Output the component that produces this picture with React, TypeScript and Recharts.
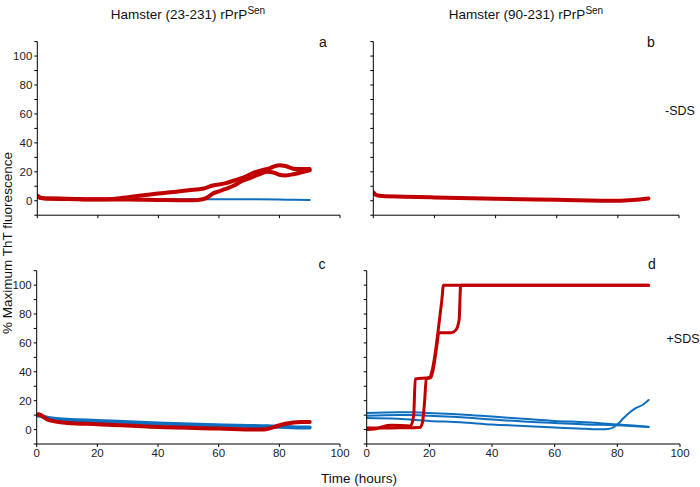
import React from 'react';
import { LineChart, Line, XAxis, YAxis } from 'recharts';

// ---- axis ticks ----
const xTicks = [0, 20, 40, 60, 80, 100];
const yTicks = [-10, 0, 10, 20, 30, 40, 50, 60, 70, 80, 90, 100, 110];

// ---- panel a: Hamster (23-231), -SDS ----
const aBlueT = [0, 1, 3, 10, 20, 30, 40, 50, 60, 70, 80, 85, 90];
const aBlueV = [2, 1.5, 1.2, 1, 1, 1, 1, 1, 1.1, 1, 0.8, 0.6, 0.5];
const aRed1T = [0, 1, 3, 10, 20, 25, 30, 35, 40, 45, 50, 55, 58, 62, 65, 68, 71, 74, 76, 78, 80, 82, 85, 88, 90];
const aRed1V = [3.5, 2.2, 1.6, 1.4, 1, 1.2, 2.5, 3.8, 5, 6, 7.2, 8.5, 10.5, 12, 14, 16, 19, 21, 22, 23.5, 24.6, 24, 22, 22, 22];
const aRed2T = [0, 1, 3, 10, 20, 30, 40, 50, 53, 56, 58, 60, 62, 65, 67, 70, 73, 76, 78, 80, 82, 85, 88, 90];
const aRed2V = [3, 2, 1.5, 1.2, 0.8, 0.8, 0.5, 0.3, 0.5, 2, 5, 6.5, 8, 10.5, 13, 15.5, 18, 20, 19.5, 18, 17.5, 18.5, 20, 21];

// ---- panel b: Hamster (90-231), -SDS ----
const bBlueT = [0, 1, 3, 10, 20, 40, 60, 80, 90];
const bBlueV = [5, 3.8, 3.1, 2.7, 2.2, 1.3, 0.6, 0, 1.4];
const bRedT = [0, 1, 3, 10, 20, 40, 60, 80, 85, 90];
const bRedV = [5.8, 3.9, 3.2, 2.8, 2.3, 1.4, 0.7, 0, 0.5, 1.6];

// ---- panel c: Hamster (23-231), +SDS ----
const cBlueT = [0, 1, 5, 10, 20, 40, 59, 76, 87, 90];
const cBlueV = [10, 9.5, 7.6, 6.8, 6, 4.2, 3, 2.3, 1.4, 1.4];
const cRedT = [0, 0.5, 4, 10, 20, 40, 60, 74, 76, 79, 82, 87, 90];
const cRedV = [10, 10.6, 6.5, 4.6, 3.7, 1.8, 0.7, 0, 0.4, 2.3, 4, 5.3, 5.3];

// ---- panel d: Hamster (90-231), +SDS ----
const dBlue1T = [0, 10, 15, 20, 30, 40, 50, 60, 70, 80, 90];
const dBlue1V = [11.5, 12, 12, 11.5, 10.5, 9, 7.5, 6, 5, 3.5, 2];
const dBlue2T = [0, 10, 15, 20, 30, 40, 50, 60, 70, 80, 90];
const dBlue2V = [9.5, 10, 10, 9.5, 8.5, 7, 5.5, 4.5, 3.5, 3, 1.8];
const dBlue3T = [0, 10, 20, 30, 40, 50, 60, 70, 76, 78, 80, 82, 84, 86, 88, 90];
const dBlue3V = [8, 7.5, 6, 5, 3.5, 2.5, 1.5, 0.5, 0.2, 0.8, 3.5, 8, 12, 15, 17, 20.5];
const dRed1T = [0, 3, 5, 8, 14, 15, 15.5, 20, 21, 22, 23, 24, 24.5, 90];
const dRed1V = [0, 0.5, 2, 3, 2.5, 10, 35, 36, 42, 55, 72, 90, 100, 100];
const dRed2T = [0, 5, 10, 17, 17.8, 18.5, 19, 20.5, 21.5, 22.5, 23, 27, 28.5, 29.5, 30, 90];
const dRed2V = [1, 1, 1.2, 1.5, 5, 20, 35, 36, 45, 60, 67, 67, 69, 76, 100, 100];

const BLUE = '#0f6fbf';
const RED = '#c00000';
const FONT = '"Liberation Sans", Arial, sans-serif';

const zip = (t: number[], v: number[]) => t.map((x, i) => ({ t: x, v: v[i] }));

type Series = { data: { t: number; v: number }[]; color: string; width: number };

function Panel(props: {
  left: number; top: number; width: number; height: number;
  yw: number; xh: number; mt: number; mr: number; mb: number;
  showX: boolean; showY: boolean; series: Series[];
}) {
  const { left, top, width, height, yw, xh, mt, mr, mb, showX, showY, series } = props;
  return (
    <div style={{ position: 'absolute', left, top, width, height }}>
      <LineChart width={width} height={height} margin={{ top: mt, right: mr, bottom: mb, left: 0 }}>
        <XAxis
          type="number" dataKey="t" domain={[0, 100]} ticks={xTicks} allowDataOverflow
          height={xh} tickSize={3} stroke="#000" axisLine={{ stroke: '#000' }} tickLine={{ stroke: '#000' }}
          tick={{ fill: '#222', fontSize: 11.5, fontFamily: FONT }}
          tickFormatter={(v: number) => (showX ? String(v) : '')}
        />
        <YAxis
          type="number" dataKey="v" domain={[-10, 110]} ticks={yTicks} allowDataOverflow interval={0}
          width={yw} tickSize={3} stroke="#000" axisLine={{ stroke: '#000' }} tickLine={{ stroke: '#000' }}
          tick={{ fill: '#222', fontSize: 11.5, fontFamily: FONT }}
          tickFormatter={(v: number) => (showY && v >= 0 && v <= 100 && v % 20 === 0 ? String(v) : '')}
        />
        {series.map((s, i) => (
          <Line
            key={i} data={s.data} dataKey="v" type="monotone" stroke={s.color} strokeWidth={s.width}
            dot={false} isAnimationActive={false} strokeLinejoin="round" strokeLinecap="round"
          />
        ))}
      </LineChart>
    </div>
  );
}

const txt = (x: number, y: number, content: React.ReactNode, size = 12, rotate = false) => (
  <div
    style={{
      position: 'absolute', left: x, top: y, fontSize: size, fontFamily: FONT, color: '#111',
      whiteSpace: 'nowrap', lineHeight: 1,
      transform: `translate(-50%, -50%)${rotate ? ' rotate(-90deg)' : ''}`,
    }}
  >
    {content}
  </div>
);

const sup = (s: string) => (
  <span style={{ fontSize: 10, position: 'relative', top: -5 }}>{s}</span>
);

export default function App() {
  return (
    <div style={{ position: 'fixed', left: 0, top: 0, width: 700, height: 487, background: '#fff', overflow: 'hidden' }}>
      <Panel left={0} top={0} width={350} height={240} yw={37.3} xh={24.8} mt={41.6} mr={10} mb={0}
        showX={false} showY={true}
        series={[
          { data: zip(aBlueT, aBlueV), color: BLUE, width: 2 },
          { data: zip(aRed1T, aRed1V), color: RED, width: 4 },
          { data: zip(aRed2T, aRed2V), color: RED, width: 4 },
        ]} />
      <Panel left={340} top={0} width={360} height={240} yw={33.3} xh={24.8} mt={41.6} mr={21} mb={0}
        showX={false} showY={false}
        series={[
          { data: zip(bBlueT, bBlueV), color: BLUE, width: 2 },
          { data: zip(bRedT, bRedV), color: RED, width: 4 },
        ]} />
      <Panel left={0} top={240} width={350} height={247} yw={36.7} xh={25} mt={30.7} mr={10} mb={18}
        showX={true} showY={true}
        series={[
          { data: zip(cBlueT, cBlueV), color: BLUE, width: 4 },
          { data: zip(cRedT, cRedV), color: RED, width: 4 },
        ]} />
      <Panel left={340} top={240} width={360} height={247} yw={26.7} xh={25} mt={30.7} mr={20} mb={18}
        showX={true} showY={false}
        series={[
          { data: zip(dBlue1T, dBlue1V), color: BLUE, width: 2 },
          { data: zip(dBlue2T, dBlue2V), color: BLUE, width: 2 },
          { data: zip(dBlue3T, dBlue3V), color: BLUE, width: 2 },
          { data: zip(dRed1T, dRed1V), color: RED, width: 3 },
          { data: zip(dRed2T, dRed2V), color: RED, width: 3 },
        ]} />

      {txt(188, 15, <span>Hamster (23-231) rPrP{sup('Sen')}</span>, 13.5)}
      {txt(526, 15, <span>Hamster (90-231) rPrP{sup('Sen')}</span>, 13.5)}
      {txt(323, 42, 'a', 14)}
      {txt(651, 42, 'b', 14)}
      {txt(322, 264, 'c', 14)}
      {txt(652, 264, 'd', 14)}
      {txt(680, 111, '-SDS', 12.5)}
      {txt(683, 339, '+SDS', 12.5)}
      {txt(7.5, 243, '% Maximum ThT fluorescence', 13.5, true)}
      {txt(359, 479, 'Time (hours)', 13.5)}
    </div>
  );
}
